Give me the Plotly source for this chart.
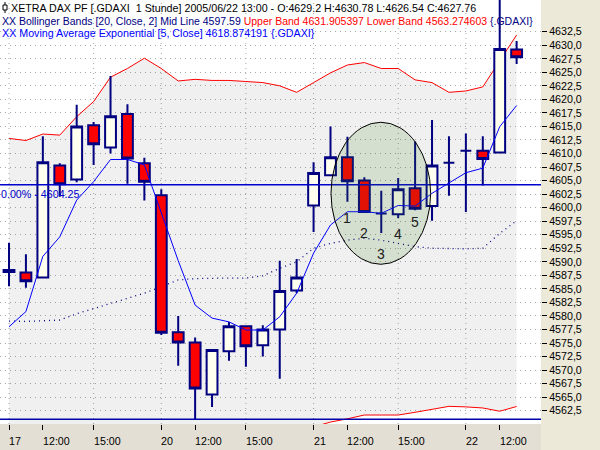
import plotly.graph_objects as go

# .GDAXI hourly candles, 17.06.2005 10:00 ... 22.06.2005 13:00 (bar index on x)
opens = [4588.5, 4588.0, 4587.1, 4607.8, 4605.2, 4615.2, 4611.1, 4617.3, 4608.2,
         4602.3, 4577.0, 4575.1, 4565.5, 4573.5, 4578.1, 4574.6, 4577.5, 4584.7,
         4600.4, 4606.0, 4609.3, 4605.0, 4598.9, 4598.8, 4603.6, 4600.3, 4608.3,
         4610.5, 4610.5, 4610.2, 4629.2]
highs = [4593.5, 4591.4, 4613.2, 4608.2, 4619.0, 4615.8, 4624.3, 4619.1, 4609.2,
         4603.4, 4580.0, 4576.0, 4573.7, 4578.9, 4578.3, 4578.3, 4590.2, 4590.5,
         4608.4, 4615.0, 4613.1, 4605.6, 4603.1, 4605.5, 4612.2, 4616.2, 4613.2,
         4613.7, 4613.2, 4638.5, 4630.78]
lows = [4585.5, 4585.2, 4587.0, 4602.0, 4604.7, 4607.9, 4610.0, 4604.4, 4601.3,
        4576.5, 4570.8, 4560.9, 4563.2, 4571.7, 4570.6, 4572.5, 4568.4, 4584.2,
        4595.5, 4605.8, 4601.1, 4599.0, 4595.3, 4598.1, 4599.5, 4597.6, 4602.2,
        4599.2, 4604.1, 4610.1, 4626.54]
closes = [4588.1, 4586.4, 4608.4, 4604.3, 4615.0, 4611.7, 4616.9, 4609.1, 4604.8,
          4576.9, 4575.1, 4566.6, 4573.7, 4578.1, 4574.4, 4577.5, 4584.6, 4587.1,
          4606.4, 4609.3, 4604.9, 4599.2, 4598.9, 4603.4, 4599.8, 4607.8, 4608.3,
          4610.5, 4609.0, 4629.3, 4627.76]

# Moving Average Exponential [5, Close]
ema5 = [4578.0, 4580.8, 4591.0, 4594.6, 4601.4, 4604.8, 4608.9, 4608.9, 4607.9,
        4599.0, 4590.2, 4582.0, 4579.6, 4578.9, 4577.4, 4577.4, 4579.85, 4584.2,
        4591.6, 4596.8, 4599.25, 4599.25, 4598.95, 4600.4, 4600.3, 4602.65, 4604.5,
        4606.45, 4607.3, 4614.95, 4618.874191]

# Bollinger Bands [20, Close, 2]
bb_upper = [4612.8, 4612.4, 4613.6, 4613.4, 4616.8, 4619.6, 4624.1, 4625.7, 4627.6,
            4625.7, 4623.4, 4623.7, 4623.5, 4623.5, 4623.3, 4623.1, 4622.5, 4621.3,
            4623.1, 4624.9, 4626.35, 4626.8, 4625.7, 4625.7, 4623.6, 4623.1, 4621.3,
            4621.55, 4622.3, 4627.0, 4631.905397]
bb_mid = [4579.05, 4579.0, 4579.1, 4579.25, 4580.4, 4581.4, 4582.3, 4583.25, 4584.2,
          4585.4, 4586.65, 4586.9, 4587.0, 4587.0, 4587.0, 4587.4, 4588.8, 4590.0,
          4592.5, 4593.4, 4594.0, 4594.35, 4594.0, 4593.4, 4592.8, 4592.5, 4592.4,
          4592.4, 4592.5, 4595.25, 4597.59]
bb_lower = [4545.3, 4545.6, 4544.6, 4545.1, 4544.0, 4543.2, 4540.5, 4540.8, 4540.8,
            4545.1, 4549.9, 4549.9, 4550.5, 4550.5, 4550.7, 4551.7, 4555.1, 4558.6,
            4559.5, 4560.4, 4561.0, 4561.7, 4561.7, 4561.7, 4562.2, 4562.7, 4563.3,
            4563.2, 4563.0, 4562.4, 4563.274603]

# time axis: bar index of each tick and its label
tick_pos = [0, 2, 5, 9, 11, 14, 18, 20, 23, 27, 29]
tick_text = ["17", "12:00", "15:00", "20", "12:00", "15:00", "21", "12:00", "15:00", "22", "12:00"]
vgrid_pos = [0, 5, 9, 14, 18, 23, 27]
y_ticks = [4562.5 + 2.5 * k for k in range(29)]

# drawing objects on the chart
hline_level = 4604.25
floor_level = 4560.9
marked_bars = [20, 21, 22, 23, 24]
marked_text = ["1", "2", "3", "4", "5"]
marked_y = [4598.0, 4595.3, 4591.4, 4595.1, 4597.4]
ellipse_x = [19.03, 24.92]
ellipse_y = [4589.54, 4615.77]

NAVY = "#000080"
RED = "#FF0000"
BLUE = "#0000FF"
GRID = "#A8A8A8"
FONT = "Liberation Sans, Arial, sans-serif"
FS = 10.7

W, H = 600, 450
PLOT_W, PLOT_H = 541, 424
X_RANGE = [-0.532, 31.44]
Y_RANGE = [4560.04, 4638.355]

idx = list(range(len(closes)))


def px_x(px):
    return px / PLOT_W


def px_y(py):
    return 1 - py / PLOT_H


fig = go.Figure()

# band fill + band lines on the base axes, candles go on an overlay above
fig.add_trace(go.Scatter(x=idx, y=bb_upper, mode="lines", line=dict(color=RED, width=1),
                         hoverinfo="skip", showlegend=False))
fig.add_trace(go.Scatter(x=idx, y=bb_lower, mode="lines", line=dict(color=RED, width=1),
                         fill="tonexty", fillcolor="rgba(0,0,0,0.06)",
                         hoverinfo="skip", showlegend=False))
fig.add_trace(go.Scatter(x=idx, y=bb_mid, mode="lines",
                         line=dict(color=NAVY, width=1.3, dash="1px,4px"),
                         hoverinfo="skip", showlegend=False))

fig.add_trace(go.Candlestick(
    x=idx, open=opens, high=highs, low=lows, close=closes,
    increasing=dict(line=dict(color=NAVY, width=2), fillcolor="#FFFFF0"),
    decreasing=dict(line=dict(color=NAVY, width=2), fillcolor=RED),
    whiskerwidth=0, showlegend=False, hoverinfo="skip",
    xaxis="x2", yaxis="y2",
))
fig.add_trace(go.Scatter(x=idx, y=ema5, mode="lines", line=dict(color=BLUE, width=1),
                         hoverinfo="skip", showlegend=False, xaxis="x2", yaxis="y2"))

# vertical dotted grid only at day starts and 15:00
for p in vgrid_pos:
    fig.add_shape(type="line", xref="x", yref="paper", x0=p, x1=p, y0=0, y1=1,
                  line=dict(color=GRID, width=1, dash="1px,4px"), layer="below")

# horizontal drawing lines
fig.add_shape(type="line", xref="paper", yref="y", x0=0, x1=1, y0=hline_level, y1=hline_level,
              line=dict(color="#0000CC", width=1.5))
fig.add_shape(type="line", xref="paper", yref="y", x0=0, x1=1, y0=floor_level, y1=floor_level,
              line=dict(color="#0000AA", width=1.5))

# ellipse marking bars 1..5
fig.add_shape(type="circle", xref="x", yref="y",
              x0=ellipse_x[0], x1=ellipse_x[1], y0=ellipse_y[0], y1=ellipse_y[1],
              fillcolor="rgba(60,127,27,0.15)", line=dict(color="black", width=1))

# bottom time-axis strip
fig.add_shape(type="rect", xref="paper", yref="paper", x0=0, x1=1, y0=-26 / PLOT_H, y1=0,
              fillcolor="#E3DFD4", line=dict(width=0), layer="below")

# small chart icon in front of the title
fig.add_shape(type="line", xref="paper", yref="paper", x0=px_x(5), x1=px_x(5), y0=px_y(2), y1=px_y(13),
              line=dict(color="black", width=1))
fig.add_shape(type="rect", xref="paper", yref="paper", x0=px_x(3), x1=px_x(7), y0=px_y(5), y1=px_y(10),
              line=dict(color="black", width=1), fillcolor="white")

annotations = []
header = [
    ("XETRA DAX PF [.GDAXI \u00a01 Stunde] 2005/06/22 13:00 - O:4629.2 H:4630.78 L:4626.54 C:4627.76",
     "black", 10, 7.5, FS),
    (f"<span style='color:{NAVY}'>XX Bollinger Bands [20, Close, 2] Mid Line 4597.59 </span>"
     f"<span style='color:{RED}'>Upper Band 4631.905397 Lower Band 4563.274603 </span>"
     f"<span style='color:{NAVY}'>{{.GDAXI}}</span>", NAVY, 1, 20.5, 10.5),
    ("XX Moving Average Exponential [5, Close] 4618.874191 {.GDAXI}", BLUE, 1, 33, FS),
]
for text, color, x0, yc, size in header:
    annotations.append(dict(text=text, xref="paper", yref="paper", x=px_x(x0), y=px_y(yc),
                            xanchor="left", yanchor="middle", showarrow=False,
                            font=dict(family=FONT, size=size, color=color), borderpad=0))

for p, t in zip(tick_pos, tick_text):
    annotations.append(dict(text=t, xref="x", yref="paper", x=p, y=px_y(441),
                            xanchor="left", yanchor="middle", showarrow=False, xshift=-1,
                            font=dict(family=FONT, size=FS, color="black"), borderpad=0))

annotations.append(dict(text="0.00% - 4604.25", xref="paper", yref="y", x=0, y=hline_level,
                        xanchor="left", yanchor="middle", yshift=-9, showarrow=False,
                        font=dict(family=FONT, size=FS, color="#0000CC"), borderpad=0))

for b, t, v in zip(marked_bars, marked_text, marked_y):
    annotations.append(dict(text=t, xref="x", yref="y", x=b, y=v, showarrow=False,
                            font=dict(family=FONT, size=14, color="#202020")))

fig.update_layout(
    width=W, height=H,
    margin=dict(l=0, r=W - PLOT_W, t=0, b=H - PLOT_H),
    paper_bgcolor="#ECE9D8",
    plot_bgcolor="white",
    separators=", ",
    boxgap=0.36,
    boxgroupgap=0,
    showlegend=False,
    annotations=annotations,
    xaxis=dict(range=X_RANGE, tickvals=tick_pos, showticklabels=False, ticks="outside",
               ticklen=5, tickcolor="black", showgrid=False, zeroline=False, showline=False,
               rangeslider=dict(visible=False), fixedrange=True),
    yaxis=dict(range=Y_RANGE, side="right", tickvals=y_ticks, tickformat=".1f",
               ticks="outside", ticklen=5, tickcolor="black",
               tickfont=dict(family=FONT, size=FS, color="black"),
               showgrid=True, gridcolor=GRID, griddash="1px,4px", gridwidth=1,
               zeroline=False, showline=False, fixedrange=True),
    xaxis2=dict(range=X_RANGE, overlaying="x", visible=False,
                rangeslider=dict(visible=False), fixedrange=True),
    yaxis2=dict(range=Y_RANGE, overlaying="y", visible=False, fixedrange=True),
)

# page body margin would push the 600x450 figure out of the window
fig.write_html("out.html", config={"displayModeBar": False},
               post_script="document.body.style.margin='0';")
